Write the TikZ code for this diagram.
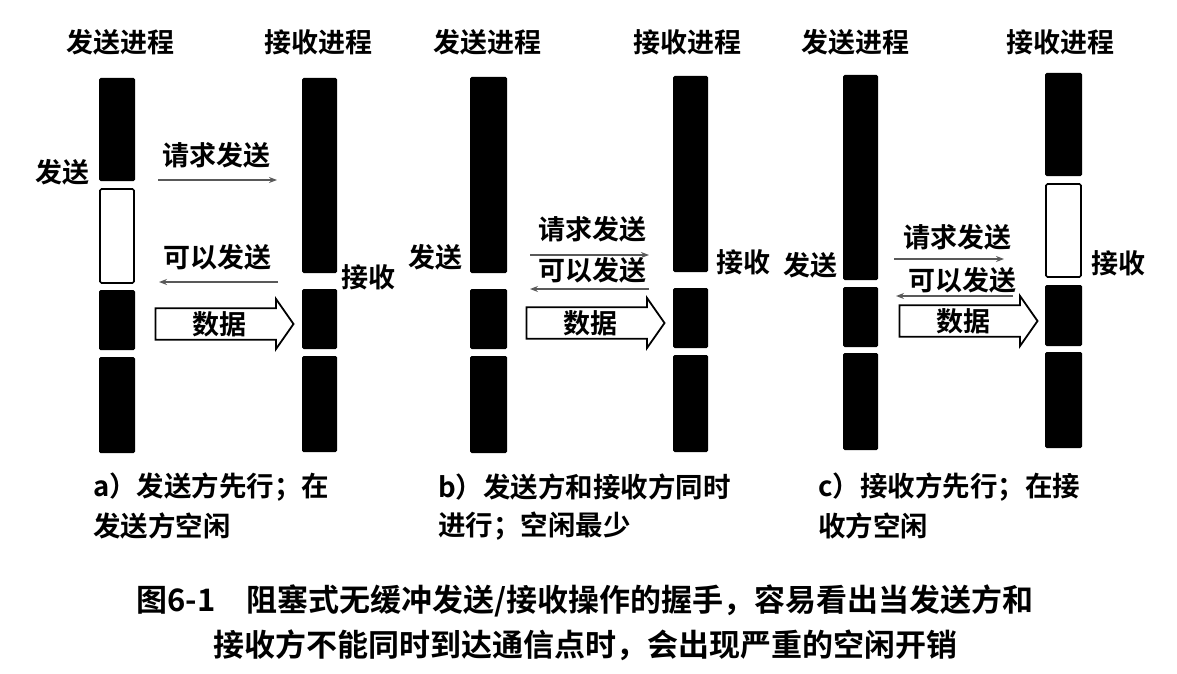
\documentclass[tikz,border=0pt]{standalone}
\usepackage{fontspec}
\setmainfont{Noto Sans CJK SC}[UprightFont=* Bold]
\usetikzlibrary{arrows.meta,shapes.arrows}

\tikzset{
  busy/.style={fill=black, rounded corners=1.5pt},
  idle/.style={draw=black, line width=1.6pt, fill=white, rounded corners=1.5pt},
  msg/.style={draw=black!65, line width=2.2pt, -{Stealth[length=8pt,width=6pt]}},
  lbl/.style={inner sep=0pt, font=\fontsize{27}{30}\selectfont},
  note/.style={inner sep=0pt, anchor=west, font=\fontsize{27.5}{30}\selectfont},
  capt/.style={inner sep=0pt, font=\fontsize{31}{34}\selectfont},
  datarrow/.style={single arrow, draw=black, line width=1.8pt, fill=white,
    minimum height=138pt, minimum width=50pt, single arrow head extend=8pt,
    single arrow tip angle=110, inner sep=0pt, font=\fontsize{27}{30}\selectfont}
}

\begin{document}
\begin{tikzpicture}[x=1pt, y=-1pt]
		\useasboundingbox (0,0) rectangle (1177,674);
		% a) sender first, idle on sender
		\node[lbl] (aSendT) at (120,42) {发送进程};
		\node[lbl] (aRecvT) at (318,42) {接收进程};
		\fill[busy] (99,78) rectangle (135,181);
		\draw[idle] (100,189) rectangle (134,283);
		\fill[busy] (99,290) rectangle (135,350);
		\fill[busy] (99,357) rectangle (135,453);
		\fill[busy] (302,78) rectangle (337,273);
		\fill[busy] (302,289) rectangle (337,349);
		\fill[busy] (302,356) rectangle (337,452);
		\node[lbl] (aSend) at (62,172) {发送};
		\node[lbl] (aRecv) at (368,277) {接收};
		\node[lbl] (aReq) at (216,155) {请求发送};
		\coordinate (aReqL) at (158,180);
		\coordinate (aReqR) at (277,180);
		\draw[msg] (aReqL) -- (aReqR);
		\node[lbl] (aOk) at (217,257) {可以发送};
		\coordinate (aOkR) at (278,282);
		\coordinate (aOkL) at (159,282);
		\draw[msg] (aOkR) -- (aOkL);
		\node[datarrow] (aData) at (219,324) {数据};
		% b) both at the same time
		\node[lbl] (bSendT) at (487,42) {发送进程};
		\node[lbl] (bRecvT) at (687,42) {接收进程};
		\fill[busy] (470,77) rectangle (507,273);
		\fill[busy] (470,289) rectangle (507,349);
		\fill[busy] (470,356) rectangle (507,453);
		\fill[busy] (673,76) rectangle (708,272);
		\fill[busy] (673,288) rectangle (708,348);
		\fill[busy] (673,355) rectangle (708,452);
		\node[lbl] (bSend) at (435,257) {发送};
		\node[lbl] (bRecv) at (743,262) {接收};
		\node[lbl] (bReq) at (592,229) {请求发送};
		\coordinate (bReqL) at (530,255);
		\coordinate (bReqR) at (649,255);
		\draw[msg] (bReqL) -- (bReqR);
		\node[lbl] (bOk) at (592,270) {可以发送};
		\coordinate (bOkR) at (649,289);
		\coordinate (bOkL) at (530,289);
		\draw[msg] (bOkR) -- (bOkL);
		\node[datarrow] (bData) at (590,323) {数据};
		% c) receiver first, idle on receiver
		\node[lbl] (cSendT) at (855,42) {发送进程};
		\node[lbl] (cRecvT) at (1060,42) {接收进程};
		\fill[busy] (843,75) rectangle (878,280);
		\fill[busy] (843,287) rectangle (878,347);
		\fill[busy] (843,353) rectangle (878,450);
		\fill[busy] (1045,73) rectangle (1082,176);
		\draw[idle] (1046,184) rectangle (1081,277);
		\fill[busy] (1045,285) rectangle (1082,346);
		\fill[busy] (1045,352) rectangle (1082,448);
		\node[lbl] (cSend) at (810,265) {发送};
		\node[lbl] (cRecv) at (1118,263) {接收};
		\node[lbl] (cReq) at (957,237) {请求发送};
		\coordinate (cReqL) at (894,259);
		\coordinate (cReqR) at (1004,259);
		\draw[msg] (cReqL) -- (cReqR);
		\node[lbl] (cOk) at (962,280) {可以发送};
		\coordinate (cOkR) at (1013,296);
		\coordinate (cOkL) at (896,296);
		\draw[msg] (cOkR) -- (cOkL);
		\node[datarrow] (cData) at (963,321) {数据};
		% panel notes
		\node[note] (aNote1) at (93,487) {a）发送方先行；在};
		\node[note] (aNote2) at (93,526) {发送方空闲};
		\node[note] (bNote1) at (438,487) {b）发送方和接收方同时};
		\node[note] (bNote2) at (438,526) {进行；空闲最少};
		\node[note] (cNote1) at (818,487) {c）接收方先行；在接};
		\node[note] (cNote2) at (818,526) {收方空闲};
		% figure caption
		\node[capt] (capt1) at (585,601) {图6-1\quad 阻塞式无缓冲发送/接收操作的握手，容易看出当发送方和};
		\node[capt] (capt2) at (585,645) {接收方不能同时到达通信点时，会出现严重的空闲开销};
	\end{tikzpicture}
\end{document}
